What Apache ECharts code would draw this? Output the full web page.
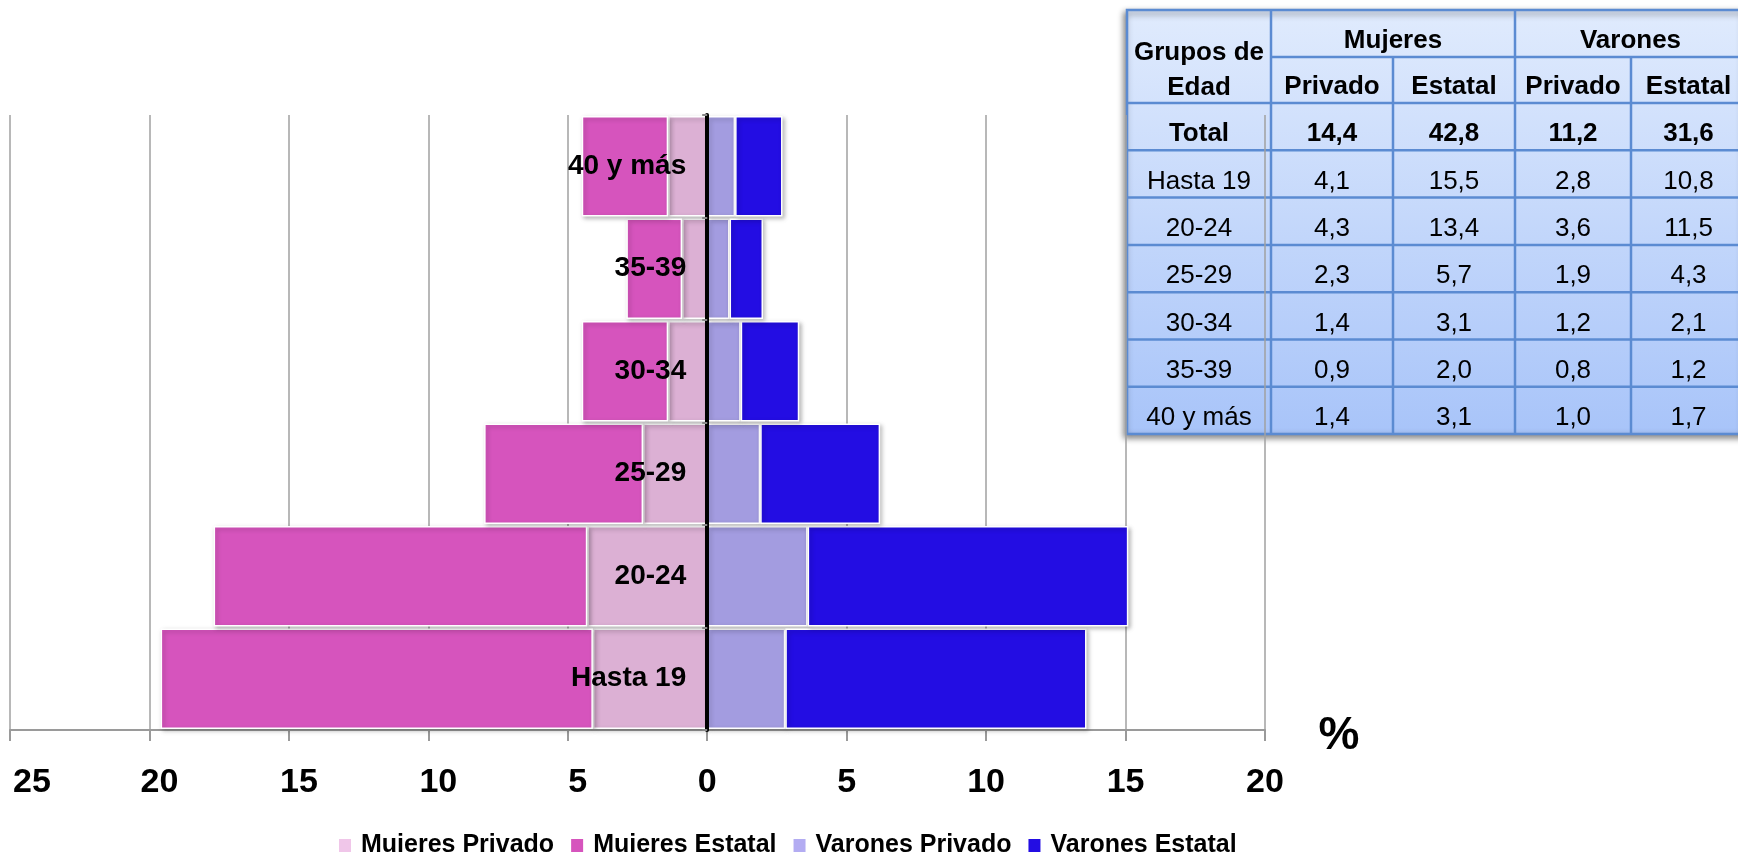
<!DOCTYPE html>
<html>
<head>
<meta charset="utf-8">
<script src="https://cdn.jsdelivr.net/npm/echarts@6.0.0/dist/echarts.min.js"></script>
<style>
  html, body { margin: 0; padding: 0; background: #fff; }
  #chart { width: 1738px; height: 852px; }
</style>
</head>
<body>
<div id="chart"></div>
<script>
const grupos = ['Hasta 19', '20-24', '25-29', '30-34', '35-39', '40 y más'];
const mujeresPrivado = [4.1, 4.3, 2.3, 1.4, 0.9, 1.4];
const mujeresEstatal = [15.5, 13.4, 5.7, 3.1, 2.0, 3.1];
const varonesPrivado = [2.8, 3.6, 1.9, 1.2, 0.8, 1.0];
const varonesEstatal = [10.8, 11.5, 4.3, 2.1, 1.2, 1.7];
const totales = [14.4, 42.8, 11.2, 31.6];
const serieNombres = ['Mujeres Privado', 'Mujeres Estatal', 'Varones Privado', 'Varones Estatal'];
const barColors = ['#dcb0d4', '#d654bd', '#a39ce0', '#230de3'];
const legendColors = ['#f0c6e9', '#d654bd', '#b3acf2', '#230de3'];

const FONT = '"Liberation Sans", Arial, sans-serif';
const GRID_LEFT = 10;
const fmt = v => v.toFixed(1).replace('.', ',');

// tabla (arriba a la derecha)
function buildTable() {
  const cols = [1127, 1271, 1393, 1515, 1631, 1746];
  const top = 10, h1 = 57, h2 = 103, rowH = 47.3;
  const nRows = grupos.length + 1;
  const bottom = h2 + rowH * nRows;
  const right = cols[5];
  const lineColor = '#5b8bd2';
  const kids = [];

  kids.push({
    type: 'rect',
    shape: { x: cols[0], y: top, width: right - cols[0], height: bottom - top },
    style: {
      fill: new echarts.graphic.LinearGradient(0, 0, 0, 1, [
        { offset: 0, color: '#e0ebfd' },
        { offset: 1, color: '#a8c4f9' }
      ]),
      stroke: lineColor, lineWidth: 2.5,
      shadowBlur: 6, shadowColor: 'rgba(0,0,0,0.45)', shadowOffsetX: -2, shadowOffsetY: 3
    }
  });

  const line = (x1, y1, x2, y2) => kids.push({
    type: 'line', shape: { x1, y1, x2, y2 },
    style: { stroke: lineColor, lineWidth: 2.5 }
  });
  line(cols[1], top, cols[1], bottom);
  line(cols[3], top, cols[3], bottom);
  line(cols[2], h1, cols[2], bottom);
  line(cols[4], h1, cols[4], bottom);
  line(cols[1], h1, right, h1);
  for (let r = 0; r < nRows; r++) line(cols[0], h2 + rowH * r, right, h2 + rowH * r);

  const txt = (s, x, y, bold) => kids.push({
    type: 'text', x, y,
    style: {
      text: s, x: 0, y: 0, align: 'center', verticalAlign: 'middle',
      font: (bold ? 'bold ' : '') + '26px ' + FONT, fill: '#000'
    }
  });
  const cx = i => (cols[i] + cols[i + 1]) / 2;

  txt('Grupos de', cx(0), 53, true);
  txt('Edad', cx(0), 88, true);
  txt('Mujeres', (cols[1] + cols[3]) / 2, h1 - 16, true);
  txt('Varones', (cols[3] + cols[5]) / 2, h1 - 16, true);
  ['Privado', 'Estatal', 'Privado', 'Estatal'].forEach((s, i) => txt(s, cx(i + 1), h2 - 16, true));

  // fila Total
  const yb = h2 + rowH;
  txt('Total', cx(0), yb - 16, true);
  totales.forEach((v, i) => txt(fmt(v), cx(i + 1), yb - 16, true));

  grupos.forEach((g, r) => {
    const y = h2 + rowH * (r + 2) - 16;
    txt(g, cx(0), y, false);
    [mujeresPrivado, mujeresEstatal, varonesPrivado, varonesEstatal]
      .forEach((arr, i) => txt(fmt(arr[r]), cx(i + 1), y, false));
  });

  return { type: 'group', z: 100, children: kids };
}

const chart = echarts.init(document.getElementById('chart'));

const seriesData = [
  mujeresPrivado.map(v => -v),
  mujeresEstatal.map(v => -v),
  varonesPrivado,
  varonesEstatal
];

chart.setOption({
  backgroundColor: '#fff',
  animation: false,
  textStyle: { fontFamily: FONT },
  grid: { left: GRID_LEFT, right: 473, top: 115, bottom: 122, containLabel: false, outerBoundsMode: 'none' },
  legend: {
    left: 332, top: 828,
    itemWidth: 14, itemHeight: 15, itemGap: 15,
    icon: 'rect',
    textStyle: { fontFamily: FONT, fontSize: 25, fontWeight: 'bold', color: '#000', padding: [0, 0, 0, 4] },
    data: serieNombres.map((n, i) => ({ name: n, itemStyle: { color: legendColors[i] } }))
  },
  xAxis: {
    type: 'value',
    min: -25, max: 20, interval: 5,
    axisLine: { show: true, onZero: false, lineStyle: { color: '#9a9a9a', width: 2 } },
    axisTick: { show: true, length: 11, lineStyle: { color: '#9a9a9a', width: 2 } },
    splitLine: { show: true, lineStyle: { color: '#a0a0a0', width: 1.5 } },
    axisLabel: {
      margin: 36,
      formatter: function (v) {
        const a = Math.abs(v);
        if (v === -25) return '{e|' + a + '}';
        if (v < 0) return '{n|' + a + '}';
        return '{p|' + a + '}';
      },
      rich: {
        p: { fontFamily: FONT, fontSize: 34, fontWeight: 'bold', color: '#000', lineHeight: 34 },
        n: { fontFamily: FONT, fontSize: 34, fontWeight: 'bold', color: '#000', lineHeight: 34, padding: [0, 0, 0, 20] },
        e: { fontFamily: FONT, fontSize: 34, fontWeight: 'bold', color: '#000', lineHeight: 34, padding: [0, 0, 0, 44] }
      }
    }
  },
  yAxis: {
    type: 'category',
    data: grupos,
    z: 10,
    axisLine: { show: true, onZero: false, lineStyle: { color: '#000', width: 4 } },
    axisTick: { show: true, length: 5, lineStyle: { color: '#888', width: 2 } },
    splitLine: { show: false },
    axisLabel: { show: true, interval: 0, margin: 21, fontFamily: FONT, fontSize: 28, fontWeight: 'bold', color: '#000' }
  },
  series: serieNombres.map((n, i) => ({
    name: n,
    type: 'bar',
    stack: 'total',
    barCategoryGap: '2%',
    itemStyle: {
      color: barColors[i],
      borderColor: '#fff',
      borderWidth: 1.5,
      shadowBlur: 4,
      shadowColor: 'rgba(0,0,0,0.25)',
      shadowOffsetX: 2,
      shadowOffsetY: 2
    },
    data: seriesData[i]
  })),
  graphic: [
    {
      type: 'text', x: 1339, y: 736, z: 100,
      style: { text: '%', x: 0, y: 0, align: 'center', verticalAlign: 'middle', font: 'bold 46px ' + FONT, fill: '#000' }
    },
    buildTable()
  ]
});

// mover el eje de categorias a la posicion del 0 del eje de valores
const x0 = chart.convertToPixel({ xAxisIndex: 0 }, 0);
chart.setOption({ yAxis: { offset: -(x0 - GRID_LEFT) } });
</script>
</body>
</html>
